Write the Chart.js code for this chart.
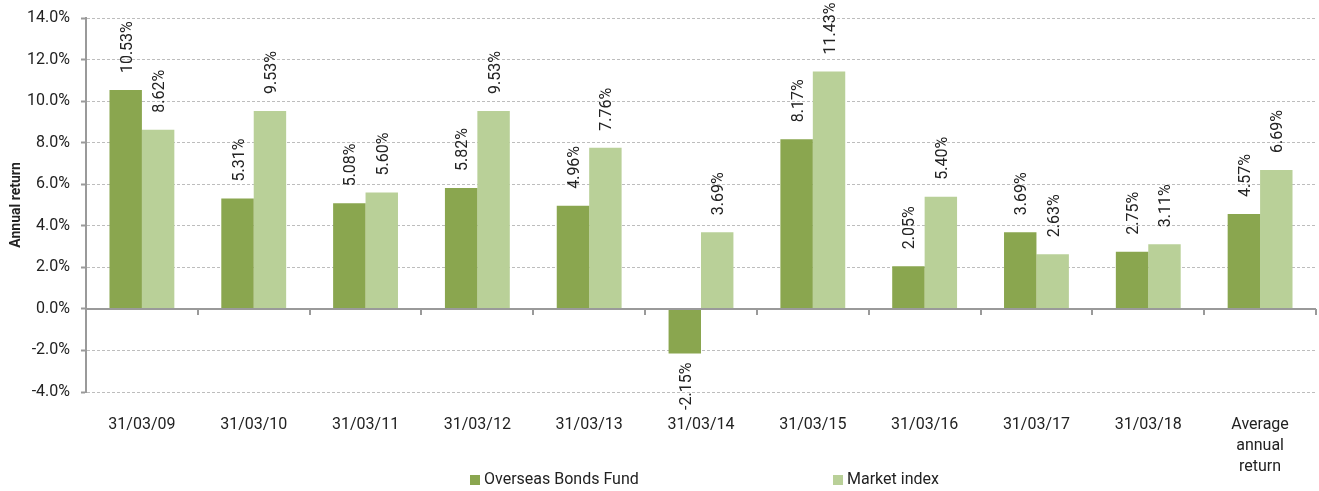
<!DOCTYPE html>
<html>
<head>
<meta charset="utf-8">
<script src="https://cdn.jsdelivr.net/npm/chart.js@4.4.0/dist/chart.umd.min.js"></script>
<style>
  html, body { margin: 0; padding: 0; background: #fff; }
  #wrap { width: 1319px; height: 491px; position: relative; }
</style>
</head>
<body>
<div id="wrap"><canvas id="returnsChart"></canvas></div>
<script>
// Chart data
const categories = ["31/03/09", "31/03/10", "31/03/11", "31/03/12", "31/03/13", "31/03/14",
  "31/03/15", "31/03/16", "31/03/17", "31/03/18", ["Average", "annual", "return"]];
const fundReturns = [10.53, 5.31, 5.08, 5.82, 4.96, -2.15, 8.17, 2.05, 3.69, 2.75, 4.57];
const indexReturns = [8.62, 9.53, 5.60, 9.53, 7.76, 3.69, 11.43, 5.40, 2.63, 3.11, 6.69];
const seriesNames = ["Overseas Bonds Fund", "Market index"];
const yTicks = { min: -4, max: 14, step: 2 };

const darkGreen = "#8aa64f";
const lightGreen = "#b9d098";
const fontFamily = "Roboto, 'Liberation Sans', sans-serif";
const textColor = "#222";

// value labels above / below each bar, rotated
const barLabels = {
  id: "barLabels",
  afterDatasetsDraw(chart) {
    const ctx = chart.ctx;
    ctx.save();
    ctx.font = "16px " + fontFamily;
    ctx.fillStyle = textColor;
    ctx.textBaseline = "middle";
    chart.data.datasets.forEach((ds, i) => {
      chart.getDatasetMeta(i).data.forEach((bar, j) => {
        const v = ds.data[j];
        const txt = v.toFixed(2) + "%";
        ctx.save();
        if (v >= 0) {
          ctx.translate(bar.x + 2, bar.y - 17);
          ctx.rotate(-Math.PI / 2);
          ctx.textAlign = "left";
        } else {
          ctx.translate(bar.x + 2, bar.y + 9);
          ctx.rotate(-Math.PI / 2);
          ctx.textAlign = "right";
        }
        ctx.fillText(txt, 0, 0);
        ctx.restore();
      });
    });
    ctx.restore();
  }
};

// category axis drawn along the zero line, with tick marks between groups
const zeroAxis = {
  id: "zeroAxis",
  afterDatasetsDraw(chart) {
    const ctx = chart.ctx;
    const area = chart.chartArea;
    const y0 = chart.scales.y.getPixelForValue(0);
    const n = chart.data.labels.length;
    const step = (area.right - area.left) / n;
    ctx.save();
    ctx.strokeStyle = "#9a9a9a";
    ctx.lineWidth = 2;
    ctx.beginPath();
    ctx.moveTo(area.left, y0);
    ctx.lineTo(area.right, y0);
    for (let i = 1; i <= n; i++) {
      const x = Math.round(area.left + i * step);
      ctx.moveTo(x, y0);
      ctx.lineTo(x, y0 + 6);
    }
    ctx.stroke();
    ctx.restore();
  }
};

// legend spread out under the chart
const bottomLegend = {
  id: "bottomLegend",
  afterDraw(chart) {
    const ctx = chart.ctx;
    const y = 480;
    const starts = [470, 833];
    ctx.save();
    ctx.font = "16px " + fontFamily;
    ctx.textBaseline = "middle";
    ctx.textAlign = "left";
    chart.data.datasets.forEach((ds, i) => {
      ctx.fillStyle = ds.backgroundColor;
      ctx.fillRect(starts[i], y - 5, 10, 10);
      ctx.fillStyle = textColor;
      ctx.fillText(ds.label, starts[i] + 14, y);
    });
    ctx.restore();
  }
};

new Chart(document.getElementById("returnsChart"), {
  type: "bar",
  data: {
    labels: categories,
    datasets: [
      { label: seriesNames[0], data: fundReturns, backgroundColor: darkGreen },
      { label: seriesNames[1], data: indexReturns, backgroundColor: lightGreen }
    ]
  },
  options: {
    responsive: true,
    maintainAspectRatio: false,
    animation: false,
    layout: { padding: { top: 18, right: 3, bottom: 0, left: 0 } },
    datasets: { bar: { categoryPercentage: 0.58, barPercentage: 1.0 } },
    plugins: {
      legend: { display: false },
      tooltip: { enabled: false }
    },
    scales: {
      x: {
        grid: { display: false, drawTicks: false },
        border: { display: false },
        ticks: {
          color: textColor,
          padding: 22,
          maxRotation: 0,
          autoSkip: false,
          font: { family: fontFamily, size: 16, lineHeight: 1.32 }
        },
        afterFit(scale) { scale.height = 99; }
      },
      y: {
        min: yTicks.min,
        max: yTicks.max,
        ticks: {
          stepSize: yTicks.step,
          color: textColor,
          padding: 11,
          font: { family: fontFamily, size: 16 },
          callback: v => v.toFixed(1) + "%"
        },
        grid: {
          color: "#bdbdbd",
          lineWidth: 1,
          tickLength: 5,
          tickColor: "#9a9a9a",
          tickWidth: 2,
          tickBorderDash: []
        },
        border: { color: "#9a9a9a", width: 2, dash: [3, 2] },
        title: {
          display: true,
          text: "Annual return",
          color: textColor,
          padding: { top: 8, bottom: 0 },
          font: { family: fontFamily, size: 14, weight: "bold" }
        },
        afterFit(scale) {
          scale.width = 86;
          scale.paddingTop = 0;
          scale.paddingBottom = 0;
        }
      }
    }
  },
  plugins: [barLabels, zeroAxis, bottomLegend]
});
</script>
</body>
</html>
